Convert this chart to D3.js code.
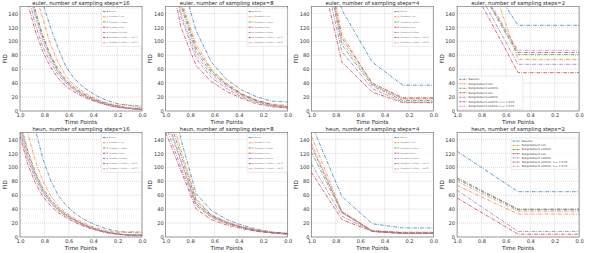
<!DOCTYPE html>
<html><head><meta charset="utf-8">
<script src="https://cdn.jsdelivr.net/npm/d3@7/dist/d3.min.js"></script>
<style>
body{margin:0;background:#fff;}
svg{display:block;font-family:"DejaVu Sans",sans-serif;}
</style></head>
<body><svg id="c" width="598" height="253"></svg>
<script>
// ---------- data ----------
const seriesNames = ["Baseline","RungeKutta t2 rule","RungeKutta t2 uniform","RungeKutta t3 rule","RungeKutta t3 uniform","RungeKutta t2 uniform, r\u209B\u209C\u2091\u209A = 0.25","RungeKutta t2 uniform, r\u209B\u209C\u2091\u209A = 0.75"];
const seriesColors = ["#1f77b4","#ff7f0e","#2ca02c","#d62728","#9467bd","#8c564b","#e377c2"];
const xTicks = [1.0,0.8,0.6,0.4,0.2,0.0];
const yTicks = [0,20,40,60,80,100,120,140];

const t16 = [1,0.9375,0.875,0.8125,0.75,0.6875,0.625,0.5625,0.5,0.4375,0.375,0.3125,0.25,0.1875,0.125,0.0625,0];
const t8 = [1,0.875,0.75,0.625,0.5,0.375,0.25,0.125,0];
const t4 = [1,0.75,0.5,0.25,0];
const t2 = [1,0.5,0];

const euler16 = [
  [330,260,200,155,120,90,64,48,37,29,22,17,13,10,8.5,7.5,7],
  [260,210,170,132,95,70,50,38,30,23,17,13,10,8,9,6,5],
  [230,185,140,105,78,57,43,33,26,20,15,11,8,6,4,3,2],
  [200,155,115,85,63,47,36,28,22,17,13,10,7,5,4,3,2],
  [220,170,125,92,70,52,40,31,24,18,14,10,7,5,4,3,2.5],
  [240,190,145,108,80,60,45,35,27,21,16,12,9,7,5,4,3],
  [235,180,135,100,75,55,42,32,25,19,14,10,8,6,4,3,2]
];
const euler8 = [
  [300,190,115,70,45,30,20,14,13],
  [280,160,95,60,40,25,15,10,8],
  [260,150,85,55,37,23,14,8,6],
  [230,120,65,42,28,18,10,6,4],
  [250,135,75,48,32,20,12,7,5],
  [270,155,90,58,38,24,15,9,6],
  [255,140,80,52,35,22,13,8,5]
];
const euler4 = [
  [290,145,70,37,37],
  [330,110,38,18,18],
  [300,95,36,15,15],
  [260,70,27,12,12],
  [280,85,32,13,13],
  [310,105,40,19,19],
  [305,100,38,17,17]
];
const euler2 = [
  [258,123,123],
  [327,74,74],
  [232,81,81],
  [218,55,55],
  [226,67,67],
  [234,84,84],
  [236,87,87]
];
const heun16 = [
  [300,215,155,112,82,60,46,36,28,22,17,13,10,8,7,6,6],
  [210,150,110,80,60,45,35,28,22,17,13,10,8,6,7,8,7],
  [160,120,90,67,52,40,32,25,20,15,11,8,6,4,3,3,3],
  [145,105,78,58,45,35,28,22,17,13,10,7,5,4,3,2,2],
  [150,112,84,63,49,38,30,24,18,14,10,7,5,4,3,2,2],
  [165,125,93,70,54,42,33,26,20,15,11,8,6,4,3,3,3],
  [155,115,87,65,50,39,31,25,19,14,11,8,6,4,3,3,2]
];
const heun8 = [
  [250,140,62,38,25,17,11,7,5],
  [200,125,55,32,22,15,10,7,5],
  [175,110,48,30,20,14,9,6,5],
  [150,95,40,25,17,12,8,6,4],
  [160,100,45,28,19,13,8,6,4],
  [185,118,52,31,21,14,9,6,5],
  [170,108,47,29,20,14,9,6,4]
];
const heun4 = [
  [162,58,19,13,13],
  [145,37,9,7,7],
  [122,35,8,6,6],
  [93,25,8,5,5],
  [105,30,8,5,5],
  [130,36,9,6,6],
  [135,35,8,5,5]
];
const heun2 = [
  [123,65,65],
  [74,33,33],
  [83,39,39],
  [56,4,4],
  [67,8,8],
  [85,40,40],
  [80,37,37]
];

const panels = [
  {title:"euler, number of sampling steps=16", t:t16, v:euler16},
  {title:"euler, number of sampling steps=8", t:t8, v:euler8},
  {title:"euler, number of sampling steps=4", t:t4, v:euler4},
  {title:"euler, number of sampling steps=2", t:t2, v:euler2},
  {title:"heun, number of sampling steps=16", t:t16, v:heun16},
  {title:"heun, number of sampling steps=8", t:t8, v:heun8},
  {title:"heun, number of sampling steps=4", t:t4, v:heun4},
  {title:"heun, number of sampling steps=2", t:t2, v:heun2}
];
// legend styling per panel (position/size only)
const legendStyle = [
  {x:81.5,y:1.5,w:40,rh:5.2,fs:1.6},
  {x:81.5,y:1.5,w:40,rh:5.2,fs:1.6},
  {x:81.5,y:1.5,w:40,rh:5.2,fs:1.6},
  {x:0.8,y:69.5,w:65,rh:4.5,fs:2.6},
  {x:81.5,y:1.5,w:40,rh:5.2,fs:1.6},
  {x:81.5,y:1.5,w:40,rh:5.2,fs:1.6},
  {x:81.5,y:1.5,w:40,rh:5.2,fs:1.6},
  {x:54,y:5.5,w:67,rh:4.2,fs:2.6}
];

// ---------- drawing ----------
const svg = d3.select("#c");
const W = 122, H = 104.5;
panels.forEach((p, i) => {
  const col = i % 4, row = Math.floor(i / 4);
  const left = 20 + col * 145.7, top = 6.5 + row * 126;
  const g = svg.append("g").attr("transform", `translate(${left},${top})`);
  const x = d3.scaleLinear().domain([1, 0]).range([0, W]);
  const y = d3.scaleLinear().domain([0, 150]).range([H, 0]);

  // grid
  g.append("g").selectAll("line").data(xTicks).join("line")
    .attr("x1", d => x(d)).attr("x2", d => x(d)).attr("y1", 0).attr("y2", H)
    .attr("stroke", "#b0b0b0").attr("stroke-width", 0.6).attr("stroke-dasharray", "0.8,1.2");
  g.append("g").selectAll("line").data(yTicks).join("line")
    .attr("y1", d => y(d)).attr("y2", d => y(d)).attr("x1", 0).attr("x2", W)
    .attr("stroke", "#b0b0b0").attr("stroke-width", 0.6).attr("stroke-dasharray", "0.8,1.2");

  const clipId = "clip" + i;
  g.append("clipPath").attr("id", clipId).append("rect").attr("width", W).attr("height", H);
  const line = d3.line().x(d => x(d[0])).y(d => y(d[1]));
  const lg = g.append("g").attr("clip-path", `url(#${clipId})`);
  p.v.forEach((vals, s) => {
    const pts = vals.map((v, k) => [p.t[k], v]);
    lg.append("path").attr("d", line(pts)).attr("fill", "none")
      .attr("stroke", seriesColors[s]).attr("stroke-width", 0.85).attr("stroke-opacity", 0.85)
      .attr("stroke-dasharray", "3.5,1.2,0.8,1.2");
  });

  // frame
  g.append("rect").attr("width", W).attr("height", H).attr("fill", "none")
    .attr("stroke", "#666").attr("stroke-width", 0.6);

  // axes
  const xa = g.append("g").attr("transform", `translate(0,${H})`)
    .call(d3.axisBottom(x).tickValues(xTicks).tickFormat(d3.format(".1f")).tickSize(0).tickPadding(2.5));
  const ya = g.append("g")
    .call(d3.axisLeft(y).tickValues(yTicks).tickSize(0).tickPadding(2));
  [xa, ya].forEach(a => { a.select(".domain").remove(); a.selectAll("text").attr("font-size", 5.1).attr("fill", "#333").attr("font-family", "DejaVu Sans"); });

  g.append("text").attr("x", W / 2).attr("y", -1.6).attr("text-anchor", "middle")
    .attr("font-size", 5.3).attr("fill", "#222").text(p.title);
  g.append("text").attr("x", W / 2).attr("y", H + 12.5).attr("text-anchor", "middle")
    .attr("font-size", 5.6).attr("fill", "#222").text("Time Points");
  g.append("text").attr("transform", `translate(-13.5,${H / 2}) rotate(-90)`).attr("text-anchor", "middle")
    .attr("font-size", 5.6).attr("fill", "#222").text("FID");

  // legend
  const ls = legendStyle[i];
  const lh = ls.rh * 7 + 2;
  const leg = g.append("g").attr("transform", `translate(${ls.x},${ls.y})`);
  leg.append("rect").attr("width", ls.w).attr("height", lh).attr("rx", 0.8)
    .attr("fill", "#fff").attr("fill-opacity", 0.8).attr("stroke", "#ccc").attr("stroke-width", 0.4);
  const hl = ls.fs * 3;
  const avail = ls.w - (2.8 + hl) - 1.5;
  seriesNames.forEach((n, s) => {
    const yy = 1 + ls.rh * s + ls.rh / 2;
    leg.append("line").attr("x1", 1.5).attr("x2", 1.5 + hl).attr("y1", yy).attr("y2", yy)
      .attr("stroke", seriesColors[s]).attr("stroke-width", 0.9).attr("stroke-dasharray", "2,0.7,0.5,0.7");
    const t = leg.append("text").attr("x", 2.8 + hl).attr("y", yy + ls.fs * 0.35)
      .attr("font-size", ls.fs).attr("fill", "#333").text(n);
    const len = t.node().getComputedTextLength();
    if (len > avail) t.attr("textLength", avail).attr("lengthAdjust", "spacingAndGlyphs");
  });
});
</script></body></html>
